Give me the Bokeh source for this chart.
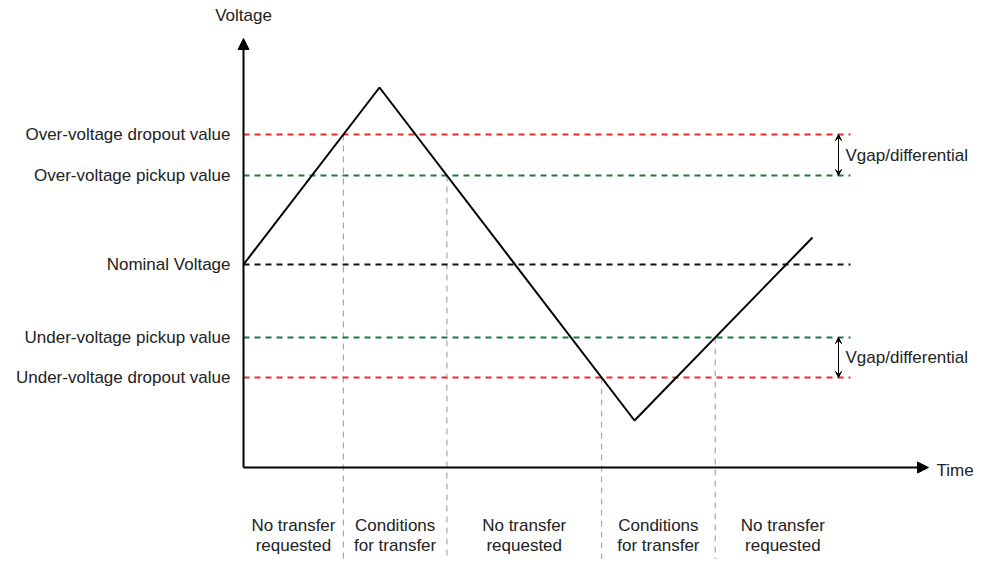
from bokeh.plotting import figure
from bokeh.models import Range1d, Arrow, NormalHead, VeeHead
from bokeh.embed import file_html
from bokeh.resources import INLINE
from bokeh.core.properties import value

# ---- data (arbitrary voltage units relative to nominal; time units) ----
level_names = ["Over-voltage dropout value", "Over-voltage pickup value", "Nominal Voltage",
               "Under-voltage pickup value", "Under-voltage dropout value"]
level_values = [130, 89, 0, -73, -113]
level_colors = ["#ee2a2a", "#1b7a43", "#111111", "#1b7a43", "#ee2a2a"]

curve_t = [0, 136, 391, 569]
curve_v = [0, 177, -156, 27]

region_labels = ["No transfer\nrequested", "Conditions\nfor transfer", "No transfer\nrequested",
                 "Conditions\nfor transfer", "No transfer\nrequested"]
gap_label = "Vgap/differential"

t_axis_end = 685
v_axis_top = 226
v_axis_bottom = -203
t_lines_end = 607
t_gap_arrow = 595

FONT = value("Liberation Sans")
FS = value("17px")
TXT = "#222222"


def crossing(level, seg):
    t0, t1 = curve_t[seg], curve_t[seg + 1]
    v0, v1 = curve_v[seg], curve_v[seg + 1]
    return t0 + (level - v0) / (v1 - v0) * (t1 - t0)


# crossings: OV dropout rising, OV pickup falling, UV dropout falling, UV pickup rising
cross = [(crossing(level_values[0], 0), level_values[0]),
         (crossing(level_values[1], 1), level_values[1]),
         (crossing(level_values[4], 1), level_values[4]),
         (crossing(level_values[3], 2), level_values[3])]

p = figure(width=980, height=559, output_backend="svg", toolbar_location=None,
           x_range=Range1d(-243, 737), y_range=Range1d(-295, 264),
           x_axis_type=None, y_axis_type=None, min_border=0)
p.outline_line_color = None
p.xgrid.visible = False
p.ygrid.visible = False
p.background_fill_color = "white"
p.border_fill_color = "white"

# vertical grey dashed separators
for tc, vc in cross:
    p.line([tc, tc], [vc, -310], line_color="#a8a8a8", line_width=1.2, line_dash="6 5")

# horizontal dashed level lines
for lv, col in zip(level_values, level_colors):
    p.line([0, t_lines_end], [lv, lv], line_color=col, line_width=2, line_dash="6 5")

# voltage curve
p.line(curve_t, curve_v, line_color="black", line_width=2)

# axes with arrows
p.add_layout(Arrow(end=NormalHead(size=11, fill_color="black", line_color="black"),
                   x_start=0, y_start=v_axis_bottom, x_end=0, y_end=v_axis_top,
                   line_width=2, line_color="black"))
p.add_layout(Arrow(end=NormalHead(size=11, fill_color="black", line_color="black"),
                   x_start=0, y_start=v_axis_bottom, x_end=t_axis_end, y_end=v_axis_bottom,
                   line_width=2, line_color="black"))

# Vgap arrows
for a, b in [(level_values[0], level_values[1]), (level_values[3], level_values[4])]:
    p.add_layout(Arrow(start=VeeHead(size=6, fill_color="black", line_color="black"),
                       end=VeeHead(size=6, fill_color="black", line_color="black"),
                       x_start=t_gap_arrow, y_start=a, x_end=t_gap_arrow, y_end=b,
                       line_width=1, line_color="black"))

# level labels
p.text(x=[-13] * len(level_values), y=level_values, text=level_names,
       text_font=FONT, text_font_size=FS, text_color=TXT,
       text_align="right", text_baseline="middle")

# gap labels
p.text(x=[t_gap_arrow + 7] * 2,
       y=[(level_values[0] + level_values[1]) / 2, (level_values[3] + level_values[4]) / 2],
       text=[gap_label] * 2, text_font=FONT, text_font_size=FS, text_color=TXT,
       text_align="left", text_baseline="middle")

# axis titles
p.text(x=[0], y=[249], text=["Voltage"], text_font=FONT, text_font_size=FS,
       text_color=TXT, text_align="center", text_baseline="middle")
p.text(x=[t_axis_end + 8], y=[v_axis_bottom - 3], text=["Time"], text_font=FONT,
       text_font_size=FS, text_color=TXT, text_align="left", text_baseline="middle")

# region labels
bounds = [0] + [c[0] for c in cross] + [t_lines_end]
centers = [(bounds[i] + bounds[i + 1]) / 2 for i in range(len(region_labels))]
p.text(x=centers, y=[-271] * len(centers), text=region_labels, text_font=FONT,
       text_font_size=FS, text_color=TXT, text_align="center", text_baseline="middle",
       text_line_height=1.1)

open("out.html", "w").write(file_html(p, INLINE))
